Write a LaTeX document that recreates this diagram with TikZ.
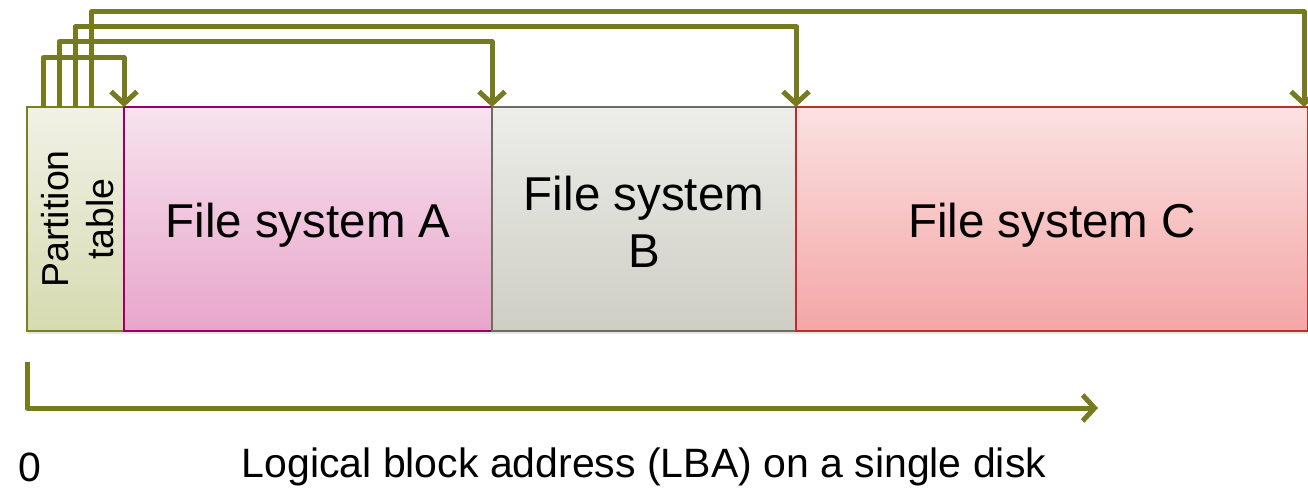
\documentclass[tikz,border=0pt]{standalone}
\usepackage{fontspec}
\setmainfont{Liberation Sans}
\usetikzlibrary{positioning, arrows.meta, shadows}

\definecolor{linkolive}{HTML}{767B1F}
\definecolor{ptdraw}{HTML}{7A7F22}
\definecolor{fsadraw}{HTML}{990066}
\definecolor{fsbdraw}{HTML}{6D6E60}
\definecolor{fscdraw}{HTML}{B5302F}

\tikzset{
  box/.style={rectangle, line width=2.5pt, inner sep=0pt, outer sep=0pt,
    minimum height=224, drop shadow={opacity=0.2, shadow xshift=0pt, shadow yshift=-3pt}},
  boxlabel/.style={font=\fontsize{47.5}{57}\selectfont, align=center},
  link/.style={linkolive, line width=5pt, line join=round,
    -{Straight Barb[length=12pt, width=26pt]}}
}

\begin{document}
\begin{tikzpicture}[x=1pt, y=-1pt]
\useasboundingbox (0,0) rectangle (1308,494);

% the disk layout
\node[box, draw=ptdraw, top color={rgb,255:red,241;green,241;blue,230},
  bottom color={rgb,255:red,214;green,219;blue,176}, minimum width=97,
  anchor=north west] (pt) at (27,107) {};
\node[box, draw=fsadraw, top color={rgb,255:red,247;green,227;blue,238},
  bottom color={rgb,255:red,232;green,165;blue,203}, minimum width=368,
  right=0pt of pt] (fsa) {};
\node[box, draw=fsbdraw, top color={rgb,255:red,237;green,237;blue,234},
  bottom color={rgb,255:red,206;green,206;blue,196}, minimum width=304,
  right=0pt of fsa] (fsb) {};
\node[box, draw=fscdraw, top color={rgb,255:red,251;green,225;blue,225},
  bottom color={rgb,255:red,244;green,166;blue,166}, minimum width=512,
  right=0pt of fsb] (fsc) {};

\node[rotate=90, align=center, font=\fontsize{37.5}{45}\selectfont] (ptlabel) at ([xshift=2pt]pt.center) {Partition\\table};
\node[boxlabel] (fsalabel) at ([yshift=-6pt]fsa.center) {File system A};
\node[boxlabel] (fsblabel) at ([yshift=-3pt]fsb.center) {File system\\B};
\node[boxlabel] (fsclabel) at ([yshift=-6pt]fsc.center) {File system C};

% pointers from the partition table
\draw[link] ([xshift=16pt]pt.north west) -- ++(0,-49) -| (fsa.north west);
\draw[link] ([xshift=32pt]pt.north west) -- ++(0,-65) -| (fsb.north west);
\draw[link] ([xshift=48pt]pt.north west) -- ++(0,-80) -| (fsc.north west);
\draw[link] ([xshift=64pt]pt.north west) -- ++(0,-95) -| ([xshift=-4pt]fsc.north east);

% address axis
\coordinate (lbastart) at (27,362);
\coordinate (lbaend) at (1098,408);
\draw[link] (lbastart) |- (lbaend);
\node[font=\fontsize{41}{48}\selectfont] (zero) at (30,467) {0};
\node[font=\fontsize{41}{48}\selectfont] (lba) at (644,467) {Logical block address (LBA) on a single disk};
\end{tikzpicture}
\end{document}
